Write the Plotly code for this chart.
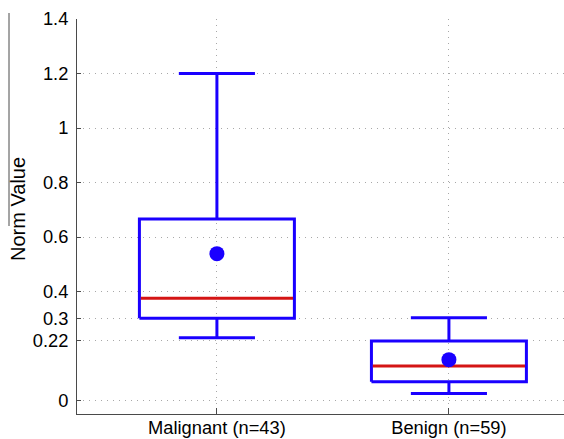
import plotly.graph_objects as go

categories = ["Malignant (n=43)", "Benign (n=59)"]
positions = [1, 2]
lower_whisker = [0.230, 0.026]
q1 = [0.302, 0.069]
median = [0.375, 0.127]
q3 = [0.666, 0.218]
upper_whisker = [1.200, 0.304]
mean = [0.539, 0.150]

y_tickvals = [0, 0.22, 0.3, 0.4, 0.6, 0.8, 1, 1.2, 1.4]
y_ticktext = ["0", "0.22", "0.3", "0.4", "0.6", "0.8", "1", "1.2", "1.4"]

BLUE = "#1a00ff"
RED = "#d41515"
AXIS = "#4a4a4a"
GRID = "#a8a8a8"
FONT = "Liberation Sans, Arial, sans-serif"

hw = 0.334   # half box width
hc = 0.164   # half cap width

fig = go.Figure()
for i, xc in enumerate(positions):
    fig.add_trace(go.Scatter(
        x=[xc - hw, xc + hw, xc + hw, xc - hw, xc - hw],
        y=[q1[i], q1[i], q3[i], q3[i], q1[i]],
        mode="lines", line=dict(color=BLUE, width=3), showlegend=False, hoverinfo="skip"))
    fig.add_trace(go.Scatter(
        x=[xc, xc, None, xc, xc],
        y=[q3[i], upper_whisker[i], None, q1[i], lower_whisker[i]],
        mode="lines", line=dict(color=BLUE, width=3), showlegend=False, hoverinfo="skip"))
    fig.add_trace(go.Scatter(
        x=[xc - hc, xc + hc, None, xc - hc, xc + hc],
        y=[upper_whisker[i], upper_whisker[i], None, lower_whisker[i], lower_whisker[i]],
        mode="lines", line=dict(color=BLUE, width=3), showlegend=False, hoverinfo="skip"))
    fig.add_trace(go.Scatter(
        x=[xc - hw + 0.006, xc + hw - 0.006],
        y=[median[i], median[i]],
        mode="lines", line=dict(color=RED, width=3), showlegend=False, hoverinfo="skip"))

fig.add_trace(go.Scatter(
    x=positions, y=mean, mode="markers",
    marker=dict(color=BLUE, size=15, line=dict(width=0)),
    showlegend=False, hoverinfo="skip"))

W, H = 564, 439
L, R, T, B = 77, 0, 19, 25
pw, ph = W - L - R, H - T - B

fig.update_layout(
    width=W, height=H,
    margin=dict(l=L, r=R, t=T, b=B),
    paper_bgcolor="white", plot_bgcolor="white",
    font=dict(family=FONT, size=18, color="black"),
    xaxis=dict(
        range=[0.397, 2.496],
        tickvals=positions, ticktext=categories,
        showgrid=True, gridcolor=GRID, griddash="1px,5px", gridwidth=1,
        showline=True, linecolor=AXIS, linewidth=1,
        ticks="inside", ticklen=6, tickcolor=AXIS,
        zeroline=False, tickfont=dict(size=18.3),
        ticklabelstandoff=-3, automargin=False,
    ),
    yaxis=dict(
        range=[-0.0495, 1.4],
        tickvals=y_tickvals, ticktext=y_ticktext,
        showgrid=True, gridcolor=GRID, griddash="1px,5px", gridwidth=1,
        showline=True, linecolor=AXIS, linewidth=1,
        ticks="inside", ticklen=4, tickcolor=AXIS,
        zeroline=False, tickfont=dict(size=18.3),
        ticklabelstandoff=4, automargin=False,
    ),
    annotations=[dict(
        text="Norm Value", textangle=-90, showarrow=False,
        xref="paper", yref="paper",
        x=(18 - L) / pw, y=(H - B - 209) / ph,
        xanchor="center", yanchor="middle",
        font=dict(family=FONT, size=20, color="black"),
    )],
    shapes=[dict(
        type="line", xref="paper", yref="paper",
        x0=(9 - L) / pw, x1=(9 - L) / pw,
        y0=(H - B - 13) / ph, y1=(H - B - 226) / ph,
        line=dict(color=AXIS, width=1),
    )],
)

fig.write_html("out.html")
